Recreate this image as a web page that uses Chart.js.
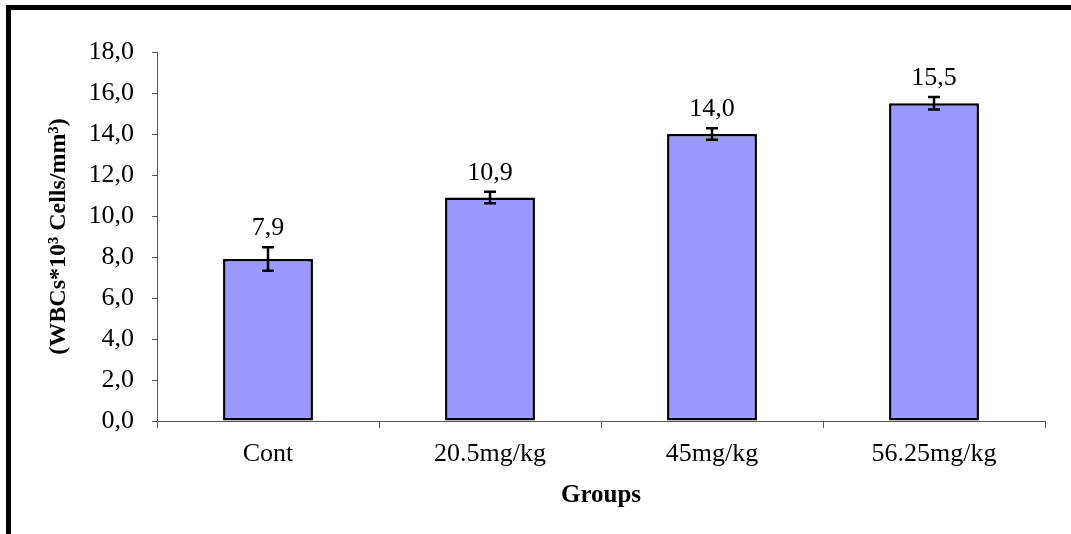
<!DOCTYPE html>
<html>
<head>
<meta charset="utf-8">
<script src="https://cdn.jsdelivr.net/npm/chart.js@4"></script>
<style>
html,body{margin:0;padding:0;background:#fff;}
#wrap{position:relative;width:1071px;height:534px;}
</style>
</head>
<body>
<div id="wrap"><canvas id="c" width="1071" height="534"></canvas></div>
<script>
const categories = ["Cont", "20.5mg/kg", "45mg/kg", "56.25mg/kg"];
const meanValues = [7.9, 10.9, 14.0, 15.5];
const errorValues = [0.57, 0.28, 0.28, 0.3];
const yTickValues = [0, 2, 4, 6, 8, 10, 12, 14, 16, 18];
const yTitle = "(WBCs*10³ Cells/mm³)";
const xTitle = "Groups";

const fmt = v => v.toFixed(1).replace('.', ',');
const FONT = "'Liberation Serif', 'Times New Roman', serif";

const framePlugin = {
  id: 'frame',
  beforeDraw(chart) {
    const ctx = chart.ctx;
    ctx.save();
    ctx.fillStyle = '#fff';
    ctx.fillRect(0, 0, chart.width, chart.height);
    ctx.fillStyle = '#000';
    ctx.fillRect(6, 5, 5, chart.height - 5);
    ctx.fillRect(6, 5, chart.width - 6, 5);
    ctx.restore();
  }
};

const errorPlugin = {
  id: 'errs',
  afterDatasetsDraw(chart) {
    const ctx = chart.ctx;
    const meta = chart.getDatasetMeta(0);
    const y = chart.scales.y;
    ctx.save();
    ctx.strokeStyle = '#000';
    ctx.lineWidth = 2.5;
    meta.data.forEach((bar, i) => {
      const x = bar.x;
      const top = y.getPixelForValue(meanValues[i] + errorValues[i]);
      const bot = y.getPixelForValue(meanValues[i] - errorValues[i]);
      ctx.beginPath();
      ctx.moveTo(x, top); ctx.lineTo(x, bot);
      ctx.moveTo(x - 6, top); ctx.lineTo(x + 6, top);
      ctx.moveTo(x - 6, bot); ctx.lineTo(x + 6, bot);
      ctx.stroke();
      ctx.fillStyle = '#000';
      ctx.font = "26px " + FONT;
      ctx.textAlign = 'center';
      ctx.textBaseline = 'alphabetic';
      ctx.fillText(fmt(meanValues[i]), x, top - 12);
    });
    ctx.restore();
  }
};

new Chart(document.getElementById('c'), {
  type: 'bar',
  data: {
    labels: categories,
    datasets: [{
      data: meanValues,
      backgroundColor: '#9999FF',
      borderColor: '#000',
      borderWidth: 2.5,
      borderSkipped: false,
      categoryPercentage: 1.0,
      barPercentage: 0.405
    }]
  },
  options: {
    responsive: false,
    animation: false,
    layout: { padding: { left: 14, right: 26, top: 52, bottom: 0 } },
    plugins: { legend: { display: false }, tooltip: { enabled: false } },
    scales: {
      x: {
        offset: true,
        grid: { display: true, drawOnChartArea: false, offset: true, tickLength: 7, color: '#555', lineWidth: 1 },
        border: { display: true, color: '#555', width: 1 },
        ticks: { color: '#000', font: { family: FONT, size: 26 }, padding: 11, maxRotation: 0 },
        title: { display: true, text: xTitle, color: '#000', font: { family: FONT, size: 25, weight: 'bold' }, padding: { top: 10, bottom: 23 } },
        afterFit(scale) { scale.height = 113; }
      },
      y: {
        min: 0, max: 18,
        afterBuildTicks(scale) { scale.ticks = yTickValues.map(v => ({ value: v })); },
        grid: { display: true, drawOnChartArea: false, tickLength: 5, color: '#555', lineWidth: 1 },
        border: { display: true, color: '#555', width: 1 },
        ticks: { color: '#000', font: { family: FONT, size: 26 }, padding: 18, callback: v => fmt(v) },
        title: { display: true, text: yTitle, color: '#000', font: { family: FONT, size: 24, weight: 'bold' }, padding: { top: 30, bottom: 0 } },
        afterFit(scale) { scale.width = 143; }
      }
    }
  },
  plugins: [framePlugin, errorPlugin]
});
</script>
</body>
</html>
